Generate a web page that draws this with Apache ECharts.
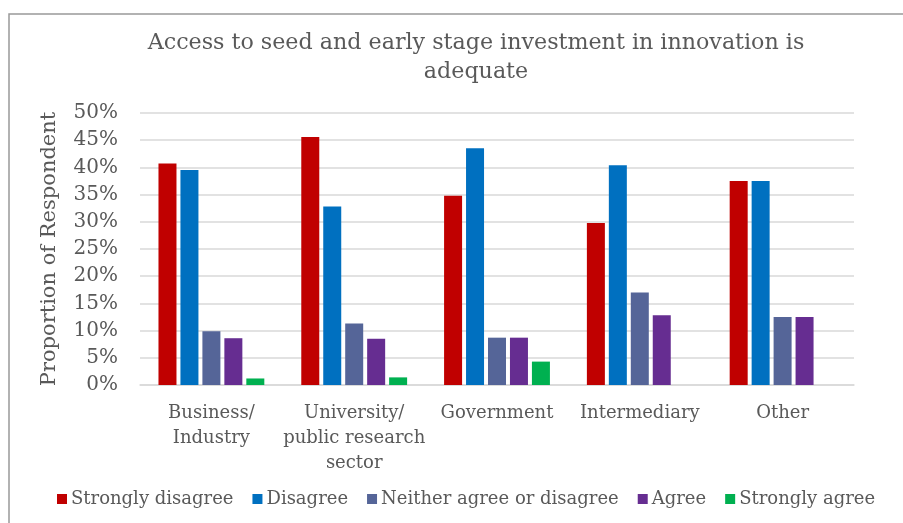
<!DOCTYPE html>
<html><head><meta charset="utf-8">
<script src="https://cdn.jsdelivr.net/npm/echarts@6/dist/echarts.min.js"></script>
<style>html,body{margin:0;padding:0;background:#fff}#c{width:903px;height:523px}</style>
</head><body><div id="c"></div>
<script>
const categories = ["Business/\nIndustry", "University/\npublic research\nsector", "Government", "Intermediary", "Other"];
const seriesNames = ["Strongly disagree", "Disagree", "Neither agree or disagree", "Agree", "Strongly agree"];
const stronglyDisagree = [40.7, 45.6, 34.8, 29.8, 37.5];
const disagree = [39.5, 32.8, 43.5, 40.4, 37.5];
const neither = [9.9, 11.3, 8.7, 17.0, 12.5];
const agree = [8.6, 8.5, 8.7, 12.8, 12.5];
const stronglyAgree = [1.2, 1.4, 4.3, 0, 0];
const colors = ["#C00000", "#0070C0", "#556598", "#662D91", "#00B050"];

const font = "DejaVu Serif";
const txt = "#595959";
const allData = [stronglyDisagree, disagree, neither, agree, stronglyAgree];
const chart = echarts.init(document.getElementById('c'));
chart.setOption({
  animation: false,
  title: {
    text: "Access to seed and early stage investment in innovation is\nadequate",
    left: 471, top: 24, textAlign: 'center',
    textStyle: {fontFamily: font, fontSize: 22.2, fontWeight: 'normal', color: txt, lineHeight: 29}
  },
  graphic: [{type: 'rect', shape: {x: 9, y: 14, width: 1000, height: 1000}, style: {fill: 'none', stroke: '#999', lineWidth: 1.5}, z: -1}],
  legend: {
    bottom: 10, left: 52, itemWidth: 10, itemHeight: 10, itemGap: 19,
    icon: 'rect',
    textStyle: {fontFamily: font, fontSize: 18, color: txt, padding: [0,0,0,-1]},
    data: seriesNames
  },
  grid: {left: 140, right: 49, top: 113, bottom: 138},
  xAxis: {
    type: 'category', data: categories,
    axisLine: {lineStyle: {color: '#d9d9d9', width: 1.5}},
    axisTick: {show: false},
    axisLabel: {fontFamily: font, fontSize: 18, color: txt, lineHeight: 25, margin: 16, interval: 0}
  },
  yAxis: {
    type: 'value', min: 0, max: 50, interval: 5,
    name: 'Proportion of Respondent', nameLocation: 'middle', nameGap: 80,
    nameTextStyle: {fontFamily: font, fontSize: 21, color: txt},
    axisLabel: {formatter: '{value}%', fontFamily: font, fontSize: 20, color: txt, margin: 22},
    splitLine: {lineStyle: {color: '#d9d9d9', width: 1.5}},
    axisLine: {show: false}, axisTick: {show: false}
  },
  series: seriesNames.map((n, i) => ({
    name: n, type: 'bar', data: allData[i], barWidth: 18, barGap: '22%',
    itemStyle: {color: colors[i]}
  }))
});
</script></body></html>
